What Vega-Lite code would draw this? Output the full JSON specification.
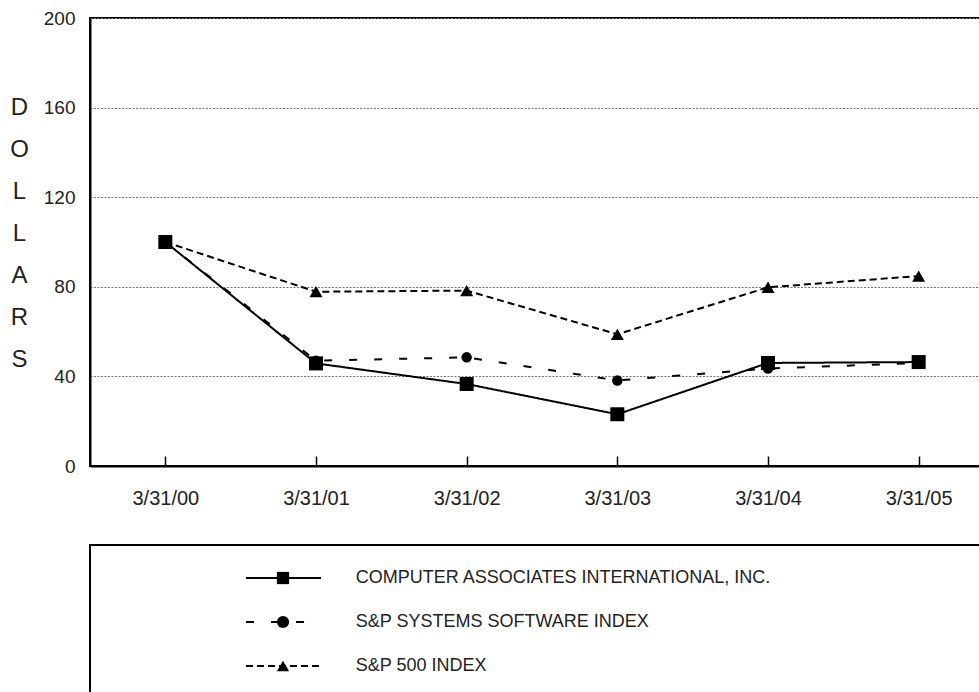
{
  "$schema": "https://vega.github.io/schema/vega-lite/v6.json",
  "padding": {"left": 8, "top": 8, "right": 0, "bottom": 0},
  "background": "white",
  "spacing": 35,
  "config": {
    "font": "Liberation Sans",
    "view": {"stroke": "black", "strokeWidth": 2},
    "text": {"font": "Liberation Sans"}
  },
  "datasets": {
    "main": [
      {"date": "3/31/00", "series": "COMPUTER ASSOCIATES INTERNATIONAL, INC.", "value": 100},
      {"date": "3/31/01", "series": "COMPUTER ASSOCIATES INTERNATIONAL, INC.", "value": 45.8},
      {"date": "3/31/02", "series": "COMPUTER ASSOCIATES INTERNATIONAL, INC.", "value": 36.6},
      {"date": "3/31/03", "series": "COMPUTER ASSOCIATES INTERNATIONAL, INC.", "value": 23.1},
      {"date": "3/31/04", "series": "COMPUTER ASSOCIATES INTERNATIONAL, INC.", "value": 46},
      {"date": "3/31/05", "series": "COMPUTER ASSOCIATES INTERNATIONAL, INC.", "value": 46.4},
      {"date": "3/31/00", "series": "S&P SYSTEMS SOFTWARE INDEX", "value": 100},
      {"date": "3/31/01", "series": "S&P SYSTEMS SOFTWARE INDEX", "value": 47},
      {"date": "3/31/02", "series": "S&P SYSTEMS SOFTWARE INDEX", "value": 48.5},
      {"date": "3/31/03", "series": "S&P SYSTEMS SOFTWARE INDEX", "value": 38.2},
      {"date": "3/31/04", "series": "S&P SYSTEMS SOFTWARE INDEX", "value": 43.5},
      {"date": "3/31/05", "series": "S&P SYSTEMS SOFTWARE INDEX", "value": 46},
      {"date": "3/31/00", "series": "S&P 500 INDEX", "value": 100},
      {"date": "3/31/01", "series": "S&P 500 INDEX", "value": 77.8},
      {"date": "3/31/02", "series": "S&P 500 INDEX", "value": 78.3},
      {"date": "3/31/03", "series": "S&P 500 INDEX", "value": 58.8},
      {"date": "3/31/04", "series": "S&P 500 INDEX", "value": 79.8},
      {"date": "3/31/05", "series": "S&P 500 INDEX", "value": 84.8}
    ],
    "legend": [
      {"series": "COMPUTER ASSOCIATES INTERNATIONAL, INC."},
      {"series": "S&P SYSTEMS SOFTWARE INDEX"},
      {"series": "S&P 500 INDEX"}
    ]
  },
  "vconcat": [
    {
      "width": 904,
      "height": 448,
      "data": {"name": "main"},
      "encoding": {
        "x": {
          "field": "date", "type": "ordinal", "sort": null,
          "scale": {"type": "point", "padding": 0.5},
          "axis": {
            "title": null, "labelAngle": 0, "labelFontSize": 20, "labelColor": "#222",
            "labelFont": "Liberation Sans",
            "domainColor": "black", "domainWidth": 2,
            "tickColor": "black", "tickWidth": 1.5, "tickSize": -10,
            "labelPadding": 32, "grid": false
          }
        },
        "y": {
          "field": "value", "type": "quantitative",
          "scale": {"domain": [0, 200], "nice": false},
          "axis": {
            "values": [0, 40, 80, 120, 160, 200],
            "labelFontSize": 19, "labelColor": "#222", "labelFont": "Liberation Sans",
            "labelPadding": 15, "ticks": false,
            "domainColor": "black", "domainWidth": 2,
            "grid": true, "gridColor": "#777", "gridDash": [2, 1.5], "gridWidth": 1,
            "title": ["D", "O", "L", "L", "A", "R", "S"],
            "titleAngle": 0, "titleX": -71, "titleY": 89, "titleLineHeight": 42,
            "titleFontSize": 24, "titleFontWeight": "normal", "titleColor": "#222",
            "titleFont": "Liberation Sans",
            "titleAlign": "center", "titleBaseline": "middle"
          }
        }
      },
      "layer": [
        {
          "mark": {"type": "line", "color": "black", "strokeWidth": 2},
          "encoding": {
            "strokeDash": {
              "field": "series", "type": "nominal",
              "scale": {
                "domain": ["COMPUTER ASSOCIATES INTERNATIONAL, INC.", "S&P SYSTEMS SOFTWARE INDEX", "S&P 500 INDEX"],
                "range": [[1, 0], [8, 17], [7, 4]]
              },
              "legend": null
            }
          }
        },
        {
          "transform": [{"filter": "datum.series === 'S&P SYSTEMS SOFTWARE INDEX'"}],
          "mark": {"type": "point", "shape": "circle", "filled": true, "color": "black", "opacity": 1, "size": 110}
        },
        {
          "transform": [{"filter": "datum.series === 'S&P 500 INDEX'"}],
          "mark": {"type": "point", "shape": "triangle-up", "filled": true, "color": "black", "opacity": 1, "size": 170}
        },
        {
          "transform": [{"filter": "datum.series === 'COMPUTER ASSOCIATES INTERNATIONAL, INC.'"}],
          "mark": {"type": "point", "shape": "square", "filled": true, "color": "black", "opacity": 1, "size": 196}
        }
      ]
    },
    {
      "width": 904,
      "height": 154,
      "data": {"name": "legend"},
      "encoding": {
        "y": {
          "field": "series", "type": "nominal", "sort": null,
          "scale": {"type": "point", "padding": 0.75,
            "domain": ["COMPUTER ASSOCIATES INTERNATIONAL, INC.", "S&P SYSTEMS SOFTWARE INDEX", "S&P 500 INDEX"]},
          "axis": null
        }
      },
      "layer": [
        {
          "mark": {"type": "rule", "color": "black", "strokeWidth": 2},
          "encoding": {
            "x": {"datum": 17.26, "type": "quantitative", "scale": {"domain": [0, 100]}, "axis": null},
            "x2": {"datum": 25.55},
            "strokeDash": {
              "field": "series", "type": "nominal",
              "scale": {
                "domain": ["COMPUTER ASSOCIATES INTERNATIONAL, INC.", "S&P SYSTEMS SOFTWARE INDEX", "S&P 500 INDEX"],
                "range": [[1, 0], [6, 10], [7, 4]]
              },
              "legend": null
            }
          }
        },
        {
          "mark": {"type": "point", "filled": true, "color": "black", "opacity": 1, "size": 150},
          "encoding": {
            "x": {"datum": 21.35, "type": "quantitative", "scale": {"domain": [0, 100]}, "axis": null},
            "shape": {
              "field": "series", "type": "nominal",
              "scale": {
                "domain": ["COMPUTER ASSOCIATES INTERNATIONAL, INC.", "S&P SYSTEMS SOFTWARE INDEX", "S&P 500 INDEX"],
                "range": ["square", "circle", "triangle-up"]
              },
              "legend": null
            }
          }
        },
        {
          "mark": {"type": "text", "align": "left", "baseline": "middle", "fontSize": 18, "color": "#222", "font": "Liberation Sans"},
          "encoding": {
            "x": {"datum": 29.4, "type": "quantitative", "scale": {"domain": [0, 100]}, "axis": null},
            "text": {"field": "series"}
          }
        }
      ]
    }
  ]
}
